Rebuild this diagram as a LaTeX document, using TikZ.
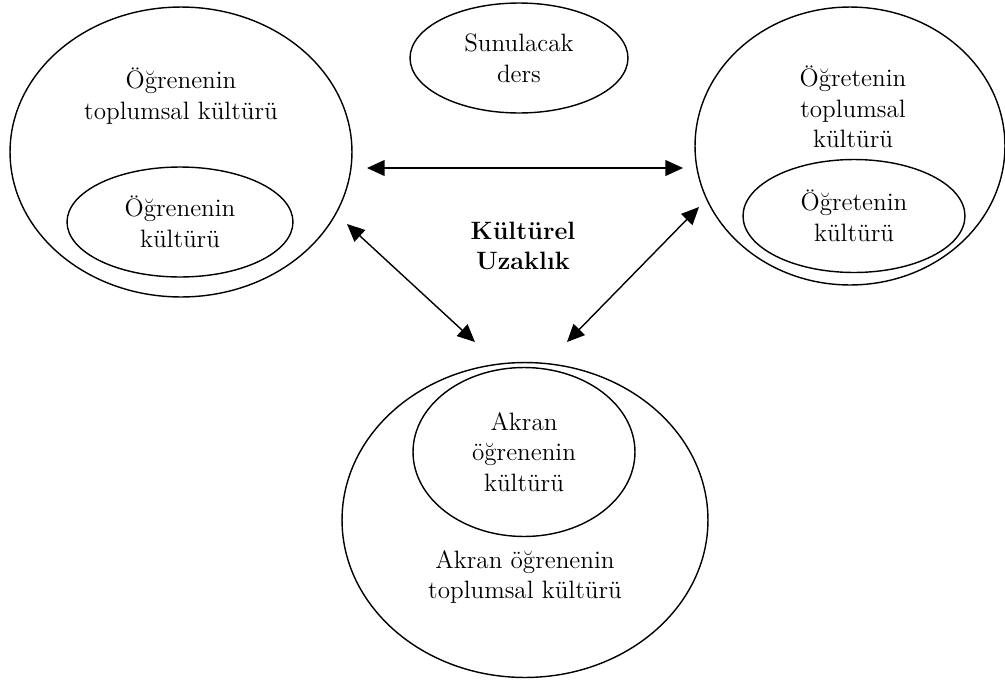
\documentclass[tikz,border=0pt]{standalone}
\usetikzlibrary{shapes.geometric,arrows.meta}

\begin{document}
\begin{tikzpicture}[x=0.02cm,y=-0.02cm,
  oval/.style={draw,ellipse,line width=0.8pt,inner sep=0pt},
  txt/.style={align=center,font=\fontsize{14.3}{17.5}\selectfont},
  arr/.style={{Triangle[length=10pt,width=9pt]}-{Triangle[length=10pt,width=9pt]},line width=0.8pt}]
\useasboundingbox (0,0) rectangle (1005,680);
% left: learner
\node[oval,minimum width=6.84cm,minimum height=5.8cm] (lout) at (181,152) {};
\node[oval,txt,minimum width=4.52cm,minimum height=2.2cm] (lin) at (180,222) {Öğrenenin\\kültürü};
\node[txt] (ltxt) at (181,96) {Öğrenenin\\toplumsal kültürü};
% right: teacher
\node[oval,minimum width=6.2cm,minimum height=5.56cm] (rout) at (850,146) {};
\node[oval,txt,minimum width=4.44cm,minimum height=2.26cm] (rin) at (854,216) {Öğretenin\\kültürü};
\node[txt] (rtxt) at (853,107) {Öğretenin\\toplumsal\\kültürü};
% top: lesson
\node[oval,txt,minimum width=4.36cm,minimum height=2.2cm] (ders) at (519,58) {Sunulacak\\ders};
% bottom: peer
\node[oval,minimum width=7.32cm,minimum height=6.3cm] (bout) at (525,520) {};
\node[oval,txt,minimum width=4.44cm,minimum height=3.38cm] (bin) at (524,452) {Akran\\öğrenenin\\kültürü};
\node[txt] (btxt) at (525,577) {Akran öğrenenin\\toplumsal kültürü};
% distance
\node[txt,font=\fontsize{14.3}{17.5}\selectfont\bfseries] (uzak) at (523,246) {Kültürel\\Uzaklık};
\coordinate (h1) at (367,168);
\coordinate (h2) at (683,168);
\coordinate (d1) at (347,224);
\coordinate (d2) at (475,342);
\coordinate (d3) at (699,207);
\coordinate (d4) at (567,342);
\draw[arr] (h1) -- (h2);
\draw[arr] (d1) -- (d2);
\draw[arr] (d3) -- (d4);
\end{tikzpicture}
\end{document}
